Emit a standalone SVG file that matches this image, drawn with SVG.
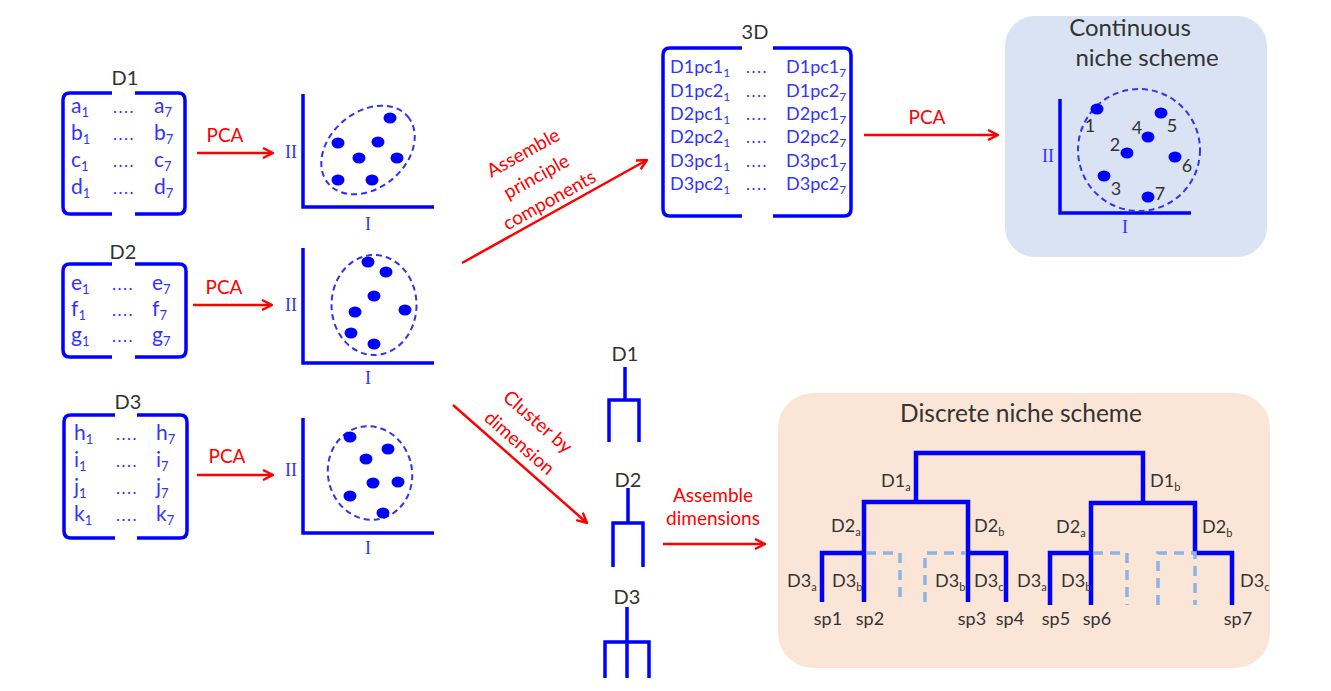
<svg xmlns="http://www.w3.org/2000/svg" width="1331" height="691" viewBox="0 0 1331 691">
<defs>
<marker id="ah" viewBox="0 0 12 12" refX="11" refY="6" markerWidth="12" markerHeight="12" markerUnits="userSpaceOnUse" orient="auto">
<path d="M1,1 L11,6 L1,11" fill="none" stroke="#ff0000" stroke-width="2.4"/>
</marker>
<style>
text{font-family:Lato,"Liberation Sans",sans-serif}
.mt{font-size:21px;fill:#3333ff}
.mt3{font-size:18px;fill:#3333ff}
.dots{font-size:17px;fill:#3333ff;text-anchor:middle;letter-spacing:1.5px}
.lbl{font-size:20px;fill:#333333;text-anchor:middle}
.red{font-size:19px;fill:#ff0000;text-anchor:middle}
.rn{font-family:"Liberation Serif",serif;font-size:18px;fill:#3333ff;text-anchor:middle}
.br{fill:none;stroke:#0000ff;stroke-width:3.5}
.ax{fill:none;stroke:#0000ff;stroke-width:3.5}
.ell{fill:none;stroke:#3333ee;stroke-width:2;stroke-dasharray:6 4}
.dot{fill:#0000ff}
.arr{stroke:#ff0000;stroke-width:2.5;fill:none;marker-end:url(#ah)}
.tr{fill:none;stroke:#0000ff;stroke-width:4.5}
.trd{fill:none;stroke:#8db4e2;stroke-width:3.5;stroke-dasharray:10 7}
.dl{font-size:18px;fill:#333333}
.sp{font-size:18px;fill:#333333;text-anchor:middle}
.num{font-size:18px;fill:#333333;text-anchor:middle}
.title{font-size:24px;fill:#333333;text-anchor:middle}
.den{fill:none;stroke:#0000ff;stroke-width:3.5}
</style>
</defs>

<g id="matrix-D1">
<text class="lbl" x="125" y="85">D1</text>
<path class="br" d="M112,93 H70 Q63,93 63,100 V207 Q63,214 70,214 H112"/>
<path class="br" d="M135,93 H178 Q185,93 185,100 V207 Q185,214 178,214 H135"/>
<text class="mt" x="71" y="113">a<tspan font-size="13" dy="4">1</tspan></text>
<text class="mt" x="71" y="140">b<tspan font-size="13" dy="4">1</tspan></text>
<text class="mt" x="71" y="167">c<tspan font-size="13" dy="4">1</tspan></text>
<text class="mt" x="71" y="194">d<tspan font-size="13" dy="4">1</tspan></text>
<text class="dots" x="124" y="113">....</text>
<text class="dots" x="124" y="140">....</text>
<text class="dots" x="124" y="167">....</text>
<text class="dots" x="124" y="194">....</text>
<text class="mt" x="154" y="113">a<tspan font-size="13" dy="4">7</tspan></text>
<text class="mt" x="154" y="140">b<tspan font-size="13" dy="4">7</tspan></text>
<text class="mt" x="154" y="167">c<tspan font-size="13" dy="4">7</tspan></text>
<text class="mt" x="154" y="194">d<tspan font-size="13" dy="4">7</tspan></text>
</g>

<g id="matrix-D2">
<text class="lbl" x="123" y="259">D2</text>
<path class="br" d="M112,264 H70 Q63,264 63,271 V350 Q63,357 70,357 H112"/>
<path class="br" d="M135,264 H179 Q186,264 186,271 V350 Q186,357 179,357 H135"/>
<text class="mt" x="71" y="290">e<tspan font-size="13" dy="4">1</tspan></text>
<text class="mt" x="71" y="316">f<tspan font-size="13" dy="4">1</tspan></text>
<text class="mt" x="71" y="342">g<tspan font-size="13" dy="4">1</tspan></text>
<text class="dots" x="123" y="290">....</text>
<text class="dots" x="123" y="316">....</text>
<text class="dots" x="123" y="342">....</text>
<text class="mt" x="152" y="290">e<tspan font-size="13" dy="4">7</tspan></text>
<text class="mt" x="152" y="316">f<tspan font-size="13" dy="4">7</tspan></text>
<text class="mt" x="152" y="342">g<tspan font-size="13" dy="4">7</tspan></text>
</g>

<g id="matrix-D3">
<text class="lbl" x="128" y="409">D3</text>
<path class="br" d="M115,415 H71 Q64,415 64,422 V531 Q64,538 71,538 H115"/>
<path class="br" d="M137,415 H180 Q187,415 187,422 V531 Q187,538 180,538 H137"/>
<text class="mt" x="74" y="440">h<tspan font-size="13" dy="4">1</tspan></text>
<text class="mt" x="74" y="467">i<tspan font-size="13" dy="4">1</tspan></text>
<text class="mt" x="74" y="494">j<tspan font-size="13" dy="4">1</tspan></text>
<text class="mt" x="74" y="521">k<tspan font-size="13" dy="4">1</tspan></text>
<text class="dots" x="127" y="440">....</text>
<text class="dots" x="127" y="467">....</text>
<text class="dots" x="127" y="494">....</text>
<text class="dots" x="127" y="521">....</text>
<text class="mt" x="156" y="440">h<tspan font-size="13" dy="4">7</tspan></text>
<text class="mt" x="156" y="467">i<tspan font-size="13" dy="4">7</tspan></text>
<text class="mt" x="156" y="494">j<tspan font-size="13" dy="4">7</tspan></text>
<text class="mt" x="156" y="521">k<tspan font-size="13" dy="4">7</tspan></text>
</g>

<g id="plot-D1">
<path class="ax" d="M303,94 V207 H434"/>
<text class="rn" x="291" y="158">II</text>
<text class="rn" x="368" y="230">I</text>
<ellipse class="ell" cx="368" cy="150" rx="52" ry="38" transform="rotate(-40 368 150)"/>
<ellipse class="dot" cx="390" cy="118" rx="6.5" ry="5.5"/>
<ellipse class="dot" cx="338" cy="143" rx="6.5" ry="5.5"/>
<ellipse class="dot" cx="378" cy="142" rx="6.5" ry="5.5"/>
<ellipse class="dot" cx="359" cy="158" rx="6.5" ry="5.5"/>
<ellipse class="dot" cx="397" cy="158" rx="6.5" ry="5.5"/>
<ellipse class="dot" cx="338" cy="180" rx="6.5" ry="5.5"/>
<ellipse class="dot" cx="372" cy="180" rx="6.5" ry="5.5"/>
</g>

<g id="plot-D2">
<path class="ax" d="M303,248 V363 H434"/>
<text class="rn" x="291" y="311">II</text>
<text class="rn" x="368" y="384">I</text>
<ellipse class="ell" cx="374" cy="305" rx="42.5" ry="50"/>
<ellipse class="dot" cx="368" cy="262" rx="6.5" ry="5.5"/>
<ellipse class="dot" cx="386" cy="272" rx="6.5" ry="5.5"/>
<ellipse class="dot" cx="374" cy="296" rx="6.5" ry="5.5"/>
<ellipse class="dot" cx="355" cy="312" rx="6.5" ry="5.5"/>
<ellipse class="dot" cx="405" cy="310" rx="6.5" ry="5.5"/>
<ellipse class="dot" cx="351" cy="333" rx="6.5" ry="5.5"/>
<ellipse class="dot" cx="374" cy="344" rx="6.5" ry="5.5"/>
</g>

<g id="plot-D3">
<path class="ax" d="M303,418 V533 H434"/>
<text class="rn" x="291" y="476">II</text>
<text class="rn" x="368" y="554">I</text>
<ellipse class="ell" cx="370" cy="473" rx="42" ry="47" transform="rotate(-12 370 473)"/>
<ellipse class="dot" cx="350" cy="437" rx="6.5" ry="5.5"/>
<ellipse class="dot" cx="388" cy="449" rx="6.5" ry="5.5"/>
<ellipse class="dot" cx="366" cy="459" rx="6.5" ry="5.5"/>
<ellipse class="dot" cx="373" cy="483" rx="6.5" ry="5.5"/>
<ellipse class="dot" cx="398" cy="482" rx="6.5" ry="5.5"/>
<ellipse class="dot" cx="350" cy="496" rx="6.5" ry="5.5"/>
<ellipse class="dot" cx="383" cy="513" rx="6.5" ry="5.5"/>
</g>

<g id="matrix-3D">
<text class="lbl" x="755" y="39">3D</text>
<path class="br" d="M742,48 H670 Q663,48 663,55 V209 Q663,216 670,216 H742"/>
<path class="br" d="M773,48 H844 Q851,48 851,55 V209 Q851,216 844,216 H773"/>
<text class="mt3" x="670" y="73">D1pc1<tspan font-size="12" dy="4">1</tspan></text>
<text class="mt3" x="670" y="97">D1pc2<tspan font-size="12" dy="4">1</tspan></text>
<text class="mt3" x="670" y="120">D2pc1<tspan font-size="12" dy="4">1</tspan></text>
<text class="mt3" x="670" y="143">D2pc2<tspan font-size="12" dy="4">1</tspan></text>
<text class="mt3" x="670" y="167">D3pc1<tspan font-size="12" dy="4">1</tspan></text>
<text class="mt3" x="670" y="190">D3pc2<tspan font-size="12" dy="4">1</tspan></text>
<text class="dots" x="757" y="73" font-size="14">....</text>
<text class="dots" x="757" y="97" font-size="14">....</text>
<text class="dots" x="757" y="120" font-size="14">....</text>
<text class="dots" x="757" y="143" font-size="14">....</text>
<text class="dots" x="757" y="167" font-size="14">....</text>
<text class="dots" x="757" y="190" font-size="14">....</text>
<text class="mt3" x="786" y="73">D1pc1<tspan font-size="12" dy="4">7</tspan></text>
<text class="mt3" x="786" y="97">D1pc2<tspan font-size="12" dy="4">7</tspan></text>
<text class="mt3" x="786" y="120">D2pc1<tspan font-size="12" dy="4">7</tspan></text>
<text class="mt3" x="786" y="143">D2pc2<tspan font-size="12" dy="4">7</tspan></text>
<text class="mt3" x="786" y="167">D3pc1<tspan font-size="12" dy="4">7</tspan></text>
<text class="mt3" x="786" y="190">D3pc2<tspan font-size="12" dy="4">7</tspan></text>
</g>

<g id="continuous-scheme">
<rect x="1005" y="16" width="262" height="241" rx="30" fill="#dae3f3"/>
<text class="title" x="1130" y="36">Continuous</text>
<text class="title" x="1147" y="66">niche scheme</text>
<path class="ax" d="M1060,99 V213 H1191"/>
<text class="rn" x="1048" y="162">II</text>
<text class="rn" x="1125" y="233">I</text>
<circle class="ell" cx="1139" cy="150" r="61"/>
<ellipse class="dot" cx="1097" cy="109" rx="6.5" ry="5.5"/>
<ellipse class="dot" cx="1161" cy="113" rx="6.5" ry="5.5"/>
<ellipse class="dot" cx="1148" cy="137" rx="6.5" ry="5.5"/>
<ellipse class="dot" cx="1127" cy="153" rx="6.5" ry="5.5"/>
<ellipse class="dot" cx="1175" cy="157" rx="6.5" ry="5.5"/>
<ellipse class="dot" cx="1104" cy="176" rx="6.5" ry="5.5"/>
<ellipse class="dot" cx="1148" cy="197" rx="6.5" ry="5.5"/>
<text class="num" x="1090" y="132">1</text>
<text class="num" x="1137" y="134">4</text>
<text class="num" x="1172" y="132">5</text>
<text class="num" x="1115" y="151">2</text>
<text class="num" x="1187" y="172">6</text>
<text class="num" x="1116" y="195">3</text>
<text class="num" x="1160" y="200">7</text>
</g>

<g id="small-dendrograms">
<text class="lbl" x="625" y="361">D1</text>
<path class="den" d="M625,367 V400 M609,442 V400 H639 V442"/>
<text class="lbl" x="628" y="487">D2</text>
<path class="den" d="M628,488 V523 M613,567 V523 H643 V567"/>
<text class="lbl" x="627" y="604">D3</text>
<path class="den" d="M627,607 V678 M605,678 V642 H649 V678"/>
</g>

<g id="discrete-scheme">
<rect x="778" y="393" width="492" height="275" rx="35" fill="#fbe5d6"/>
<text x="900" y="422" font-size="24.5" fill="#333333">Discrete niche scheme</text>
<path class="tr" d="M916,500 V453 H1143 V503"/>
<path class="tr" d="M864,602 V502 H968 V602"/>
<path class="tr" d="M822,602 V553 H864"/>
<path class="tr" d="M968,553 H1006 V602"/>
<path class="tr" d="M1091,605 V503 H1195 V553"/>
<path class="tr" d="M1050,605 V553 H1091"/>
<path class="tr" d="M1195,553 H1232 V605"/>
<path class="trd" d="M866,553 H900 V602"/>
<path class="trd" d="M925,602 V553 H966"/>
<path class="trd" d="M1093,553 H1127 V605"/>
<path class="trd" d="M1158,605 V553 H1195 V605"/>
<text class="dl" x="881" y="487">D1<tspan font-size="11" dy="4">a</tspan></text>
<text class="dl" x="1150" y="487">D1<tspan font-size="11" dy="4">b</tspan></text>
<text class="dl" x="831" y="532">D2<tspan font-size="11" dy="4">a</tspan></text>
<text class="dl" x="974" y="532">D2<tspan font-size="11" dy="4">b</tspan></text>
<text class="dl" x="1056" y="533">D2<tspan font-size="11" dy="4">a</tspan></text>
<text class="dl" x="1202" y="533">D2<tspan font-size="11" dy="4">b</tspan></text>
<text class="dl" x="787" y="587">D3<tspan font-size="11" dy="4">a</tspan></text>
<text class="dl" x="832" y="587">D3<tspan font-size="11" dy="4">b</tspan></text>
<text class="dl" x="935" y="587">D3<tspan font-size="11" dy="4">b</tspan></text>
<text class="dl" x="974" y="587">D3<tspan font-size="11" dy="4">c</tspan></text>
<text class="dl" x="1017" y="587">D3<tspan font-size="11" dy="4">a</tspan></text>
<text class="dl" x="1061" y="587">D3<tspan font-size="11" dy="4">b</tspan></text>
<text class="dl" x="1240" y="587">D3<tspan font-size="11" dy="4">c</tspan></text>
<text class="sp" x="828" y="625">sp1</text>
<text class="sp" x="870" y="625">sp2</text>
<text class="sp" x="972" y="625">sp3</text>
<text class="sp" x="1010" y="625">sp4</text>
<text class="sp" x="1056" y="625">sp5</text>
<text class="sp" x="1097" y="625">sp6</text>
<text class="sp" x="1238" y="625">sp7</text>
</g>

<g id="connectors">
<line class="arr" x1="197" y1="153" x2="273" y2="153"/>
<text class="red" x="225" y="142">PCA</text>
<line class="arr" x1="193" y1="305" x2="272" y2="305"/>
<text class="red" x="224" y="294">PCA</text>
<line class="arr" x1="197" y1="475" x2="273" y2="475"/>
<text class="red" x="227" y="463">PCA</text>
<line class="arr" x1="864" y1="135" x2="998" y2="135"/>
<text class="red" x="927" y="124">PCA</text>
<line class="arr" x1="462" y1="263" x2="647" y2="160"/>
<g transform="translate(536 176) rotate(-29)">
<text class="red" x="0" y="-20" font-size="22">Assemble</text>
<text class="red" x="0" y="7" font-size="22">principle</text>
<text class="red" x="0" y="34" font-size="22">components</text>
</g>
<line class="arr" x1="453" y1="405" x2="587" y2="523"/>
<g transform="translate(529 432) rotate(41)">
<text class="red" x="0" y="-7" font-size="22">Cluster by</text>
<text class="red" x="0" y="21" font-size="22">dimension</text>
</g>
<line class="arr" x1="663" y1="544" x2="765" y2="544"/>
<text class="red" x="713" y="502" font-size="20">Assemble</text>
<text class="red" x="713" y="525" font-size="20">dimensions</text>
</g>
</svg>
